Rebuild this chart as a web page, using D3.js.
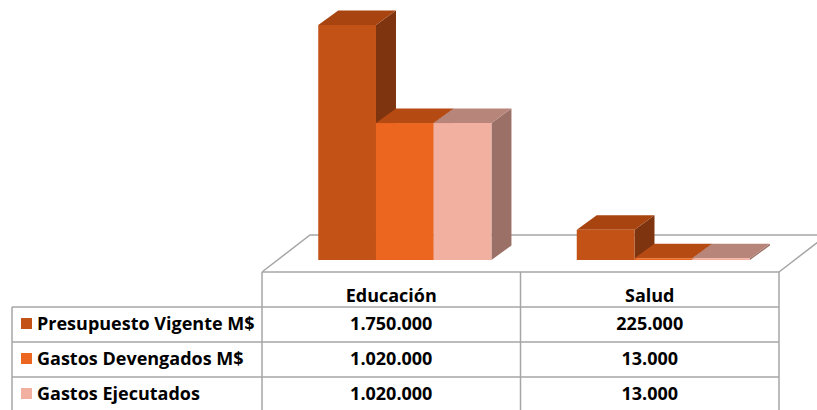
<!DOCTYPE html>
<html>
<head>
<meta charset="utf-8">
<script src="https://cdn.jsdelivr.net/npm/d3@7"></script>
<style>
  html, body { margin: 0; padding: 0; background: #fff; }
  svg { display: block; }
  text { font-family: "Open Sans", Lato, sans-serif; font-weight: bold; fill: #000; }
</style>
</head>
<body>
<svg id="chart" width="817" height="410"></svg>
<script>
// Categories and series
const categories = ["Educación", "Salud"];
const seriesNames = ["Presupuesto Vigente M$", "Gastos Devengados M$", "Gastos Ejecutados"];
const presupuestoVigente = [1750000, 225000];
const gastosDevengados = [1020000, 13000];
const gastosEjecutados = [1020000, 13000];
const seriesValues = [presupuestoVigente, gastosDevengados, gastosEjecutados];

// Face colours per series: front, top, side
const frontColors = ["#C35217", "#EC661F", "#F2B0A0"];
const topColors = ["#A8440F", "#B54A13", "#B8857A"];
const sideColors = ["#7F3410", "#8A3A10", "#9B7167"];

const fmt = v => d3.format(",")(v).replace(/,/g, ".");

const svg = d3.select("#chart");

// Layout
const tableLeft = 12, tableTop = 272, rowH = 35;
const plotLeft = 262, plotRight = 779;
const floorDepth = { dx: 48, dy: -37 };
const barOffset = { dx: 13.6, dy: -12 };   // front face of bars inside the floor
const barDepth = { dx: 20, dy: -14.5 };

const x = d3.scaleBand().domain(categories).range([plotLeft, plotRight]);
const xs = d3.scaleBand().domain(d3.range(seriesNames.length)).range([0, x.bandwidth() * 0.67]);
const baseY = tableTop + barOffset.dy;
const y = d3.scaleLinear().domain([0, 1750000]).range([baseY, 25]);

// Floor outline
const floor = svg.append("g").attr("fill", "none").attr("stroke", "#A6A6A6").attr("stroke-width", 1.5);
floor.append("polyline")
  .attr("points", [
    [plotLeft, tableTop],
    [plotLeft + floorDepth.dx, tableTop + floorDepth.dy],
    [plotRight + floorDepth.dx, tableTop + floorDepth.dy],
    [plotRight, tableTop]
  ].map(p => p.join(",")).join(" "));

// Bars (drawn left to right so nearer side faces overlap)
const bars = svg.append("g");
categories.forEach((cat, ci) => {
  const groupW = x.bandwidth() * 0.67;
  const gx = x(cat) + (x.bandwidth() - groupW) / 2 + barOffset.dx;
  seriesValues.forEach((vals, si) => {
    const x0 = gx + xs(si), x1 = x0 + xs.bandwidth();
    const yTop = y(vals[ci]);
    const dx = barDepth.dx, dy = barDepth.dy;
    const g = bars.append("g");
    // side face
    g.append("path")
      .attr("d", `M${x1},${baseY}L${x1},${yTop}L${x1 + dx},${yTop + dy}L${x1 + dx},${baseY + dy}Z`)
      .attr("fill", sideColors[si]);
    // top face
    g.append("path")
      .attr("d", `M${x0},${yTop}L${x0 + dx},${yTop + dy}L${x1 + dx},${yTop + dy}L${x1},${yTop}Z`)
      .attr("fill", topColors[si]);
    // front face
    g.append("rect")
      .attr("x", x0).attr("y", yTop)
      .attr("width", x1 - x0).attr("height", baseY - yTop)
      .attr("fill", frontColors[si]);
  });
});

// Data table
const table = svg.append("g");
const grid = table.append("g").attr("stroke", "#A6A6A6").attr("stroke-width", 1.5).attr("fill", "none");
grid.append("line").attr("x1", plotLeft).attr("x2", plotRight).attr("y1", tableTop).attr("y2", tableTop);
seriesNames.forEach((s, i) => {
  const yy = tableTop + rowH * (i + 1);
  grid.append("line").attr("x1", tableLeft).attr("x2", plotRight).attr("y1", yy).attr("y2", yy);
});
grid.append("line").attr("x1", tableLeft).attr("x2", tableLeft).attr("y1", tableTop + rowH).attr("y2", 420);
[plotLeft, ...categories.map(c => x(c) + x.bandwidth())].forEach(xx => {
  grid.append("line").attr("x1", xx).attr("x2", xx).attr("y1", tableTop).attr("y2", 420);
});

const sx = 1.06;
function label(sel, tx, ty, anchor, str) {
  sel.append("text")
    .attr("transform", `translate(${tx},${ty}) scale(${sx},1)`)
    .attr("text-anchor", anchor)
    .attr("font-size", 17)
    .text(str);
}

categories.forEach(c => label(table, x(c) + x.bandwidth() / 2, tableTop + 30, "middle", c));

seriesNames.forEach((s, i) => {
  const rowTop = tableTop + rowH * (i + 1);
  table.append("rect")
    .attr("x", tableLeft + 9).attr("y", rowTop + 11)
    .attr("width", 11).attr("height", 11)
    .attr("fill", frontColors[i]);
  label(table, tableLeft + 25, rowTop + 23, "start", s);
  categories.forEach((c, ci) => {
    label(table, x(c) + x.bandwidth() / 2, rowTop + 23, "middle", fmt(seriesValues[i][ci]));
  });
});
</script>
</body>
</html>
